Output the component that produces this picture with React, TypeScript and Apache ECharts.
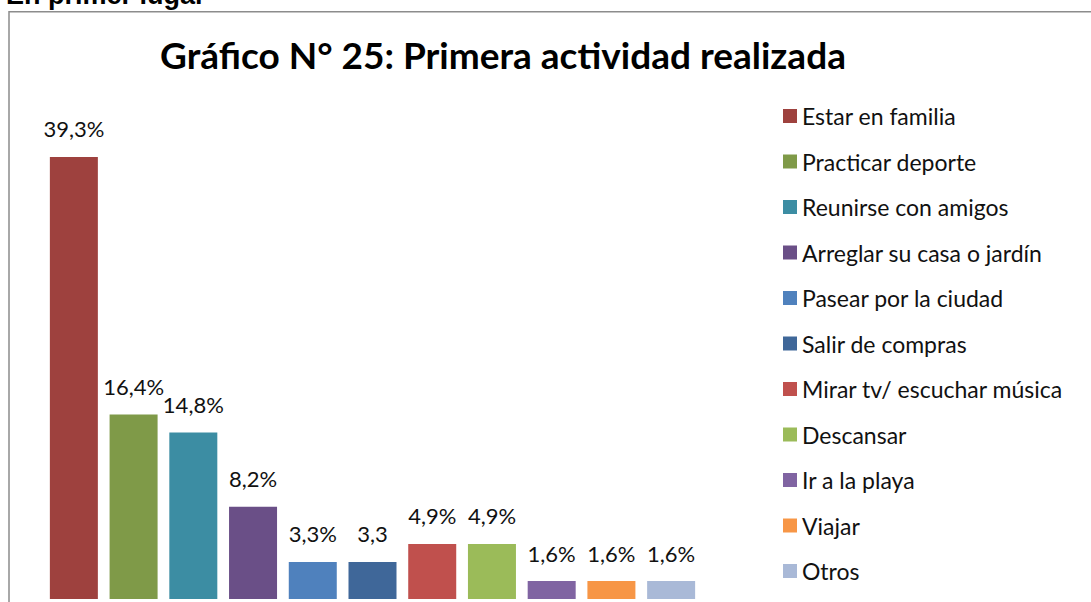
import React, { useEffect, useRef } from "react";
import * as echarts from "echarts";

const categories = [
  "Estar en familia",
  "Practicar deporte",
  "Reunirse con amigos",
  "Arreglar su casa o jardín",
  "Pasear por la ciudad",
  "Salir de compras",
  "Mirar tv/ escuchar música",
  "Descansar",
  "Ir a la playa",
  "Viajar",
  "Otros",
];
const values = [39.3, 16.4, 14.8, 8.2, 3.3, 3.3, 4.9, 4.9, 1.6, 1.6, 1.6];
const valueLabels = ["39,3%", "16,4%", "14,8%", "8,2%", "3,3%", "3,3", "4,9%", "4,9%", "1,6%", "1,6%", "1,6%"];
const colors = [
  "#9E413E",
  "#7F9A48",
  "#3C8DA3",
  "#6A4F87",
  "#4F81BD",
  "#3F6799",
  "#C0504D",
  "#9BBB59",
  "#8064A2",
  "#F79646",
  "#A9B9D7",
];

export default function App() {
  const ref = useRef<HTMLDivElement>(null);
  useEffect(() => {
    document.body.style.margin = "0";
    const chart = echarts.init(ref.current!, null, { renderer: "svg" });
    const series = categories.map((name, i) => ({
      name,
      type: "bar",
      stack: "all",
      barWidth: 48,
      itemStyle: { color: colors[i] },
      label: {
        show: true,
        position: "top",
        distance: 17,
        fontFamily: "Lato",
        fontSize: 22,
        color: "#111",
        formatter: () => valueLabels[i],
      },
      data: categories.map((_, j) => (j === i ? values[i] : "-")),
    }));
    chart.setOption({
      animation: false,
      grid: { left: 44, right: 390, top: 149, bottom: 3 },
      xAxis: { type: "category", data: categories, show: false },
      yAxis: { type: "value", min: 0, max: 40, show: false },
      legend: {
        orient: "vertical",
        left: 778,
        top: 98.5,
        itemWidth: 14,
        itemHeight: 14,
        itemGap: 20.5,
        icon: "rect",
        textStyle: { fontFamily: "Lato", fontSize: 23, lineHeight: 25, color: "#111" },
        data: categories,
      },
      graphic: [
        {
          type: "rect",
          shape: { x: 9, y: 11.75, width: 1200, height: 800 },
          style: { fill: "none", stroke: "#8c8c8c", lineWidth: 1.5 },
          silent: true,
        },
        {
          type: "text",
          x: 6,
          y: 8,
          style: {
            text: "En primer lugar",
            fontFamily: "Liberation Sans",
            fontWeight: "bold",
            fontSize: 27,
            fill: "#000",
            verticalAlign: "bottom",
          },
        },
        {
          type: "text",
          x: 503,
          y: 54,
          style: {
            text: "Gráfico N° 25: Primera actividad realizada",
            fontFamily: "Lato",
            fontWeight: "bold",
            fontSize: 37,
            fill: "#000",
            align: "center",
            verticalAlign: "middle",
          },
        },
      ],
      series,
    });
    return () => chart.dispose();
  }, []);
  return <div ref={ref} style={{ width: 1091, height: 602 }} />;
}
